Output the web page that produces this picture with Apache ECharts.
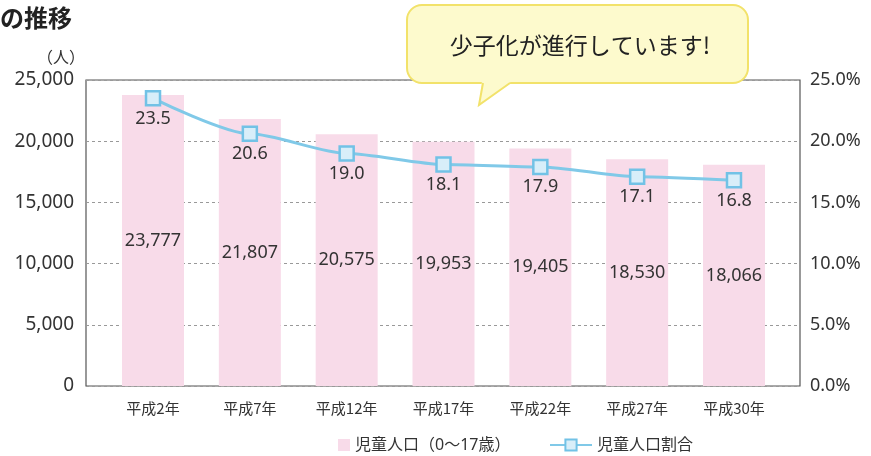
<!DOCTYPE html>
<html><head><meta charset="utf-8">
<script src="https://cdn.jsdelivr.net/npm/echarts@6/dist/echarts.min.js"></script>
<style>html,body{margin:0;padding:0;background:#fff;}#c{width:871px;height:456px;}</style>
</head><body><div id="c"></div>
<script>
const categories = ['平成2年','平成7年','平成12年','平成17年','平成22年','平成27年','平成30年'];
const population = [23777, 21807, 20575, 19953, 19405, 18530, 18066];
const ratio = [23.5, 20.6, 19.0, 18.1, 17.9, 17.1, 16.8];
const leftTicks = {min: 0, max: 25000, interval: 5000};
const rightTicks = {min: 0, max: 25, interval: 5};
const barName = '児童人口（0～17歳）';
const lineName = '児童人口割合';

const FONT = "'Noto Sans', 'Noto Sans CJK JP', sans-serif";
const TXT = '#333';
const chart = echarts.init(document.getElementById('c'));
chart.setOption({
  animation: false,
  textStyle: {fontFamily: FONT, color: TXT},
  grid: [
    {left: 86, right: 71, top: 80, bottom: 70, show: true, borderColor: '#555', borderWidth: 1.2, backgroundColor: 'transparent'},
    {left: 104.6, right: 88.6, top: 80, bottom: 70}
  ],
  legend: [
    {data: [barName], left: 333, top: 432, itemWidth: 12, itemHeight: 12, icon: 'rect',
     textStyle: {fontSize: 16, color: TXT, fontFamily: FONT}},
    {data: [lineName], left: 544, top: 432, itemWidth: 42, itemHeight: 14,
     textStyle: {fontSize: 16, color: TXT, fontFamily: FONT}}
  ],
  xAxis: [
    {gridIndex: 0, type: 'value', min: 0, max: 1, show: false},
    {gridIndex: 1, type: 'category', data: categories, boundaryGap: true,
     axisLine: {show: false}, axisTick: {show: false},
     axisLabel: {fontSize: 15, color: TXT, margin: 15, fontFamily: "'Noto Sans CJK JP', sans-serif"}}
  ],
  yAxis: [
    {gridIndex: 0, type: 'value', min: leftTicks.min, max: leftTicks.max, interval: leftTicks.interval,
     axisLine: {show: false}, axisTick: {show: false},
     axisLabel: {fontSize: 19, color: TXT, margin: 12, fontFamily: FONT,
       formatter: v => v.toLocaleString('en-US')},
     splitLine: {show: true, lineStyle: {color: '#999', type: [3, 3], width: 1}}},
    {gridIndex: 0, type: 'value', position: 'right', min: rightTicks.min, max: rightTicks.max, interval: rightTicks.interval,
     axisLine: {show: false}, axisTick: {show: false}, splitLine: {show: false},
     axisLabel: {fontSize: 18, color: TXT, margin: 10, fontFamily: FONT,
       formatter: v => v.toFixed(1) + '%'}},
    {gridIndex: 1, type: 'value', min: leftTicks.min, max: leftTicks.max, show: false, splitLine: {show: false}},
    {gridIndex: 1, type: 'value', min: rightTicks.min, max: rightTicks.max, show: false, splitLine: {show: false}}
  ],
  series: [
    {name: barName, type: 'bar', xAxisIndex: 1, yAxisIndex: 2, data: population, barWidth: 62,
     itemStyle: {color: '#f8dbe9'},
     label: {show: true, position: 'inside', fontSize: 18, color: TXT, fontFamily: FONT,
       formatter: p => p.value.toLocaleString('en-US')}},
    {name: lineName, type: 'line', xAxisIndex: 1, yAxisIndex: 3, data: ratio, smooth: 0.25, smoothMonotone: 'x',
     symbol: 'rect', symbolSize: 14,
     lineStyle: {color: '#80c9e8', width: 3},
     itemStyle: {color: '#d8eef9', borderColor: '#72c2e6', borderWidth: 2.5},
     label: {show: true, position: 'bottom', distance: 3, fontSize: 18, color: TXT, fontFamily: FONT,
       formatter: p => p.value.toFixed(1)}}
  ],
  graphic: [
    {type: 'text', left: 0, top: 6, style: {text: 'の推移', font: "bold 24px 'Noto Sans CJK JP'", fill: '#222'}},
    {type: 'text', x: 61, y: 57, style: {text: '（人）', font: "16px 'Noto Sans CJK JP'", fill: TXT, textAlign: 'center', textVerticalAlign: 'middle'}},
    {type: 'rect', z: 100, shape: {x: 407, y: 5, width: 341, height: 78, r: 15},
     style: {fill: '#fdfacd', stroke: '#f2e26a', lineWidth: 2}},
    {type: 'polygon', z: 101, shape: {points: [[482, 81], [479, 105], [512, 81]]},
     style: {fill: '#fdfacd'}},
    {type: 'polyline', z: 102, shape: {points: [[483, 83], [479, 105], [510, 83]]},
     style: {fill: null, stroke: '#f2e26a', lineWidth: 2}},
    {type: 'text', z: 103, x: 580, y: 45, style: {text: '少子化が進行しています!', font: "23px 'Noto Sans CJK JP'", fill: '#222', textAlign: 'center', textVerticalAlign: 'middle'}}
  ]
});
</script></body></html>
